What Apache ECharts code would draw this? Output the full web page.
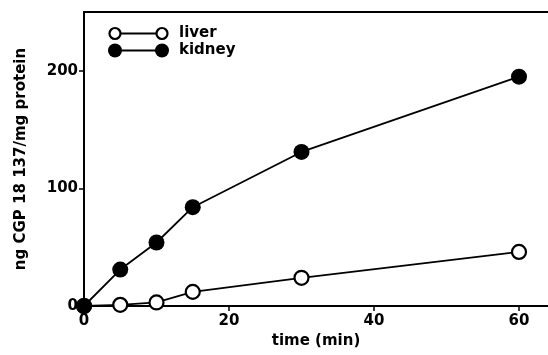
<!DOCTYPE html>
<html><head><meta charset="utf-8">
<script src="https://cdn.jsdelivr.net/npm/echarts@6/dist/echarts.min.js"></script>
<style>html,body{margin:0;padding:0;background:#fff}#c{width:548px;height:355px}</style>
</head><body><div id="c"></div>
<script>
const timeMin = [0, 5, 10, 15, 30, 60];
const liver = [0, 1, 3, 12, 24, 46];
const kidney = [0, 31, 54, 84, 131, 195];
const seriesNames = ['liver', 'kidney'];
const xTicks = [0, 20, 40, 60];
const yTicks = [0, 100, 200];

const FONT = 'DejaVu Sans';
const chart = echarts.init(document.getElementById('c'));
const pairs = (ys) => timeMin.map((t, i) => [t, ys[i]]);
const axisTxt = {color: '#000', fontFamily: FONT, fontWeight: 'bold', fontSize: 15};

chart.setOption({
  animation: false,
  backgroundColor: '#fff',
  grid: {left: 84, top: 12, right: 0, bottom: 49},
  xAxis: [{
    type: 'value', min: 0, max: 64, interval: 20,
    name: 'time (min)', nameLocation: 'middle', nameGap: 28,
    nameTextStyle: axisTxt,
    axisLine: {show: true, lineStyle: {color: '#000', width: 2}},
    axisTick: {show: true, length: 5, lineStyle: {color: '#000', width: 1.5}},
    axisLabel: Object.assign({margin: 8, showMaxLabel: false,
      formatter: v => xTicks.includes(v) ? String(v) : ''}, axisTxt),
    splitLine: {show: false}
  }, {
    type: 'value', min: 0, max: 64, position: 'top',
    axisLine: {show: true, lineStyle: {color: '#000', width: 2}},
    axisTick: {show: false}, axisLabel: {show: false}, splitLine: {show: false}
  }],
  yAxis: {
    type: 'value', min: 0, max: 250, interval: 100,
    name: 'ng CGP 18 137/mg protein', nameLocation: 'middle', nameGap: 55,
    nameTextStyle: axisTxt,
    axisLine: {show: true, lineStyle: {color: '#000', width: 2}},
    axisTick: {show: true, length: 5, lineStyle: {color: '#000', width: 1.5}},
    axisLabel: Object.assign({margin: 6, showMaxLabel: false,
      formatter: v => yTicks.includes(v) ? String(v) : ''}, axisTxt),
    splitLine: {show: false}
  },
  series: [{
    name: seriesNames[0], type: 'line', data: pairs(liver),
    symbol: 'circle', symbolSize: 14, z: 3,
    lineStyle: {color: '#000', width: 1.8},
    itemStyle: {color: '#fff', borderColor: '#000', borderWidth: 2.2}
  }, {
    name: seriesNames[1], type: 'line', data: pairs(kidney),
    symbol: 'circle', symbolSize: 16, z: 4,
    lineStyle: {color: '#000', width: 1.8},
    itemStyle: {color: '#000', borderColor: '#000', borderWidth: 0}
  }],
  graphic: [
    {type: 'group', left: 108, top: 26, children: [
      {type: 'line', shape: {x1: 7, y1: 7, x2: 54, y2: 7}, style: {stroke: '#000', lineWidth: 1.8}},
      {type: 'circle', shape: {cx: 7, cy: 7, r: 5.5}, style: {fill: '#fff', stroke: '#000', lineWidth: 2.2}},
      {type: 'circle', shape: {cx: 54, cy: 7, r: 5.5}, style: {fill: '#fff', stroke: '#000', lineWidth: 2.2}},
      {type: 'text', x: 71, y: 7, style: {text: seriesNames[0], fill: '#000', font: 'bold 15px ' + FONT, textVerticalAlign: 'middle'}},
      {type: 'line', shape: {x1: 7, y1: 24, x2: 54, y2: 24}, style: {stroke: '#000', lineWidth: 1.8}},
      {type: 'circle', shape: {cx: 7, cy: 24, r: 7}, style: {fill: '#000'}},
      {type: 'circle', shape: {cx: 54, cy: 24, r: 7}, style: {fill: '#000'}},
      {type: 'text', x: 71, y: 24, style: {text: seriesNames[1], fill: '#000', font: 'bold 15px ' + FONT, textVerticalAlign: 'middle'}}
    ]}
  ]
});
</script></body></html>
